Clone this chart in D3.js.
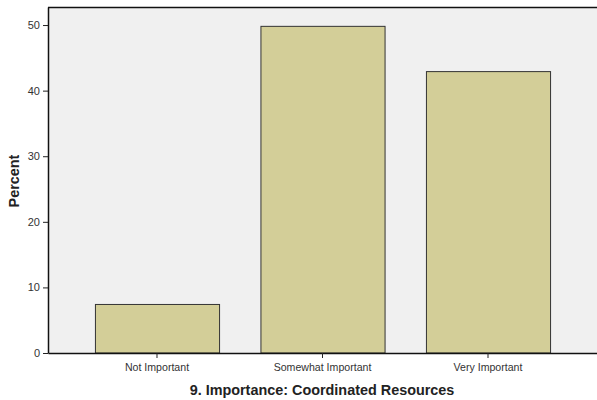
<!DOCTYPE html>
<html><head><meta charset="utf-8">
<script src="https://cdn.jsdelivr.net/npm/d3@7"></script>
<style>body{margin:0;background:#fff}svg{display:block}</style>
</head><body><svg id="c" width="597" height="400"></svg>
<script>
const categories = ["Not Important", "Somewhat Important", "Very Important"];
const percents = [7.4, 49.8, 42.9];
const yTicks = [0, 10, 20, 30, 40, 50];
const xTitle = "9. Importance: Coordinated Resources";
const yTitle = "Percent";

(function () {
const FONT = "'Liberation Sans', Arimo, Helvetica, sans-serif";
const svg = d3.select("#c");
const pL = 48, pR = 597, pT = 7, pB = 353;
const x = d3.scaleBand().domain(categories).range([pL, pR]).paddingInner(0.25).paddingOuter(0.2836).align(0.5);
const y = d3.scaleLinear().domain([0, 52.75]).range([pB, pT]);

svg.append("rect").attr("x", pL).attr("y", pT).attr("width", pR - pL).attr("height", pB - pT).attr("fill", "#f0f0f0");

svg.selectAll(".bar").data(categories).enter().append("rect")
  .attr("x", d => x(d) + 0.5).attr("y", (d, i) => y(percents[i]))
  .attr("width", x.bandwidth()).attr("height", (d, i) => pB - y(percents[i]))
  .attr("fill", "#d3ce98").attr("stroke", "#333").attr("stroke-width", 1);

svg.append("line").attr("x1", pL).attr("x2", pR).attr("y1", pT + 0.5).attr("y2", pT + 0.5).attr("stroke", "#111").attr("stroke-width", 1.5);

const yAxis = svg.append("g").attr("transform", `translate(${pL},0)`)
  .call(d3.axisLeft(y).tickValues(yTicks).tickSize(5).tickPadding(3).tickSizeOuter(0));
yAxis.select(".domain").attr("stroke", "#111").attr("stroke-width", 1.5);
yAxis.selectAll("line").attr("stroke", "#222");
yAxis.selectAll("text").attr("font-family", FONT).attr("font-size", 11).attr("fill", "#333");

const xAxis = svg.append("g").attr("transform", `translate(0,${pB})`)
  .call(d3.axisBottom(x).tickSize(5).tickPadding(5).tickSizeOuter(0));
xAxis.select(".domain").attr("stroke", "#111").attr("stroke-width", 1.5);
xAxis.selectAll("line").attr("stroke", "#222");
xAxis.selectAll("text").attr("font-family", FONT).attr("font-size", 10.6).attr("fill", "#333");

svg.append("text").attr("x", 322).attr("y", 395).attr("text-anchor", "middle")
  .attr("font-family", FONT).attr("font-size", 14.4).attr("font-weight", "bold").attr("fill", "#222").text(xTitle);

svg.append("text").attr("transform", "translate(19,181) rotate(-90)").attr("text-anchor", "middle")
  .attr("font-family", FONT).attr("font-size", 14.4).attr("font-weight", "bold").attr("fill", "#222").text(yTitle);
})();
</script></body></html>
